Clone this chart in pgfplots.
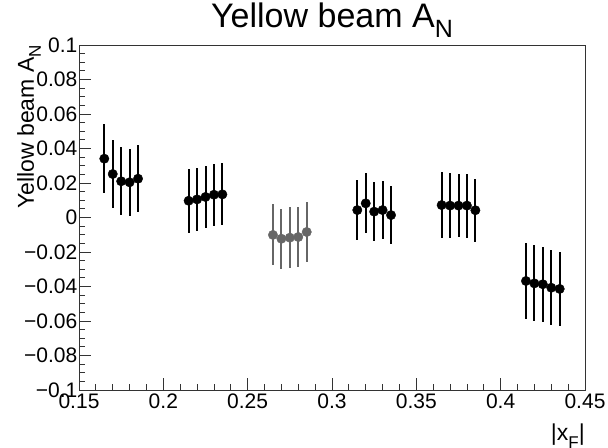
\documentclass[border=0pt]{standalone}
\usepackage{pgfplots}
\pgfplotsset{compat=1.18}
\usepackage{fontspec}
\setmainfont{Liberation Sans}
\definecolor{rootgray}{RGB}{102,102,102}

% x_F, A_N, stat. error
\pgfplotstableread{
x     y        e
0.165  0.0341  0.0200
0.170  0.0252  0.0199
0.175  0.0210  0.0196
0.180  0.0204  0.0193
0.185  0.0225  0.0193
0.215  0.0097  0.0185
0.220  0.0105  0.0182
0.225  0.0119  0.0182
0.230  0.0132  0.0181
0.235  0.0134  0.0180
0.315  0.0043  0.0174
0.320  0.0082  0.0174
0.325  0.0034  0.0172
0.330  0.0043  0.0170
0.335  0.0014  0.0169
0.365  0.0072  0.0189
0.370  0.0069  0.0190
0.375  0.0069  0.0184
0.380  0.0069  0.0186
0.385  0.0042  0.0182
0.415 -0.0368  0.0222
0.420 -0.0382  0.0220
0.425 -0.0387  0.0218
0.430 -0.0407  0.0218
0.435 -0.0414  0.0214
}\blackpts
\pgfplotstableread{
x     y        e
0.265 -0.0101  0.0177
0.270 -0.0123  0.0175
0.275 -0.0117  0.0177
0.280 -0.0113  0.0176
0.285 -0.0084  0.0172
}\graypts

\begin{document}
\begin{tikzpicture}
\path[use as bounding box] (0,0) rectangle (608bp,448bp);
\begin{axis}[
    at={(79bp,58bp)}, anchor=south west,
    width=506bp, height=345bp, scale only axis,
    xmin=0.15, xmax=0.45, ymin=-0.1, ymax=0.1,
    xtick={0.15,0.2,0.25,0.3,0.35,0.4,0.45},
    xticklabels={0.15,0.2,0.25,0.3,0.35,0.4,0.45},
    ytick={-0.1,-0.08,-0.06,-0.04,-0.02,0,0.02,0.04,0.06,0.08,0.1},
    yticklabels={−0.1,−0.08,−0.06,−0.04,−0.02,0,0.02,0.04,0.06,0.08,0.1},
    minor x tick num=4, minor y tick num=3,
    tick align=inside, tick pos=left,
    major tick length=12bp, minor tick length=6bp,
    axis line style={line width=0.8bp, black!80},
    tick style={line width=0.8bp, black!80},
    ticklabel style={font=\fontsize{21bp}{21bp}\selectfont},
    yticklabel style={inner xsep=1.5bp},
    title={Yellow beam A\raisebox{-0.3em}{\fontsize{25bp}{25bp}\selectfont N}},
    title style={font=\fontsize{34bp}{34bp}\selectfont,
        at={(axis description cs:0.5,1)}, anchor=base, yshift=12bp},
    ylabel={Yellow beam A\raisebox{-0.3em}{\fontsize{17bp}{17bp}\selectfont N}},
    ylabel style={font=\fontsize{23bp}{23bp}\selectfont,
        at={(axis description cs:-0.075,1)}, anchor=south east, inner sep=0pt},
    xlabel={|x\raisebox{-0.35em}{\fontsize{17bp}{17bp}\selectfont F}|},
    xlabel style={font=\fontsize{23bp}{23bp}\selectfont,
        at={(axis description cs:1,0)}, anchor=base east, inner sep=0pt, yshift=-50bp},
    error bars/y dir=both, error bars/y explicit,
    error bars/error mark=none,
    error bars/error bar style={line width=2bp},
]
\addplot[only marks, mark=*, mark size=4.7bp, black,
    mark options={fill=black, draw=black}]
    table[x=x, y=y, y error=e] {\blackpts};
\addplot[only marks, mark=*, mark size=4.7bp, rootgray,
    mark options={fill=rootgray, draw=rootgray}]
    table[x=x, y=y, y error=e] {\graypts};
\end{axis}
\end{tikzpicture}
\end{document}
